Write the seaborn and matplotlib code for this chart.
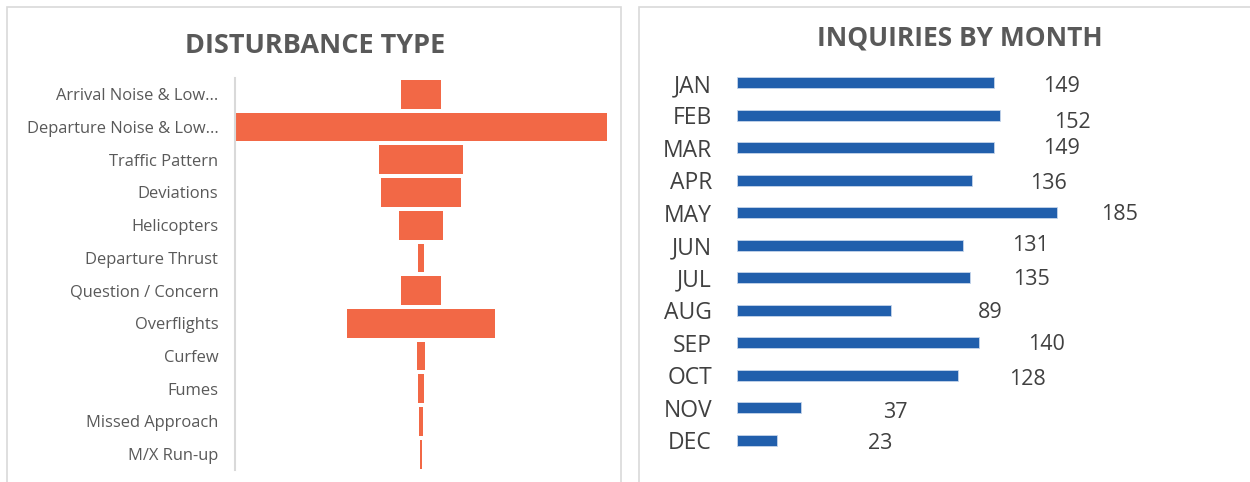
import numpy as np
import pandas as pd
import matplotlib
matplotlib.use('Agg')
import matplotlib.pyplot as plt
from matplotlib.patches import Rectangle
import seaborn as sns

# disturbance type counts (funnel)
dist_types = ['Arrival Noise & Low...', 'Departure Noise & Low...', 'Traffic Pattern',
              'Deviations', 'Helicopters', 'Departure Thrust', 'Question / Concern',
              'Overflights', 'Curfew', 'Fumes', 'Missed Approach', 'M/X Run-up']
dist_counts = [71, 648, 145, 141, 75, 11, 68, 258, 15, 11, 7, 4]

# inquiries by month
months = ['JAN', 'FEB', 'MAR', 'APR', 'MAY', 'JUN', 'JUL', 'AUG', 'SEP', 'OCT', 'NOV', 'DEC']
month_counts = [149, 152, 149, 136, 185, 131, 135, 89, 140, 128, 37, 23]

# label offsets from bar end (px) - labels in the original are placed loosely
lab_dx = [49, 54, 49, 58, 44, 49, 43, 87, 49, 51, 82, 91]
lab_dy = [-4, -7, -1, -3, -2, 0, -2, -2, -2, -4, -5, -3]

sns.set_theme(style='white')
plt.rcParams['font.family'] = ['Open Sans', 'DejaVu Sans']

W, H = 1250, 482
fig = plt.figure(figsize=(W / 100, H / 100), dpi=100)

def fbox(x0, y0, x1, y1):
    # pixel box (top-left origin) -> figure fraction rect
    return [x0 / W, 1 - y1 / H, (x1 - x0) / W, (y1 - y0) / H]

# panel borders
fig.patches.append(Rectangle((7 / W, -0.05), (621 - 7) / W, 1 - 7 / H + 0.05,
                             transform=fig.transFigure, fill=False, ec='#d9d9d9', lw=1.2))
fig.patches.append(Rectangle((639 / W, -0.05), 0.5, 1 - 7 / H + 0.05,
                             transform=fig.transFigure, fill=False, ec='#d9d9d9', lw=1.2))

orange = '#F26846'
blue = '#215FAC'

# ---- left: funnel
df1 = pd.DataFrame({'type': dist_types, 'half': np.array(dist_counts) / 2})
ax1 = fig.add_axes(fbox(235, 78, 607, 470.5))
sns.barplot(data=df1, x='half', y='type', color=orange, width=0.88,
            saturation=1, ax=ax1)
df1['neg'] = -df1['half']
sns.barplot(data=df1, x='neg', y='type', color=orange, width=0.88,
            saturation=1, ax=ax1)
for p in ax1.patches:
    p.set_edgecolor('none')
m = max(dist_counts) / 2
ax1.set_xlim(-m, m)
ax1.set_xlabel('')
ax1.set_ylabel('')
ax1.set_xticks([])
ax1.tick_params(axis='y', length=0, pad=12, labelsize=11.9, labelcolor='#595959')
for s in ['top', 'right', 'bottom']:
    ax1.spines[s].set_visible(False)
ax1.spines['left'].set_color('#d9d9d9')
ax1.spines['left'].set_linewidth(1.5)
fig.text(315 / W, 1 - 46 / H, 'DISTURBANCE TYPE', ha='center', va='center',
         fontsize=19.5, fontweight='bold', color='#595959')

# ---- right: inquiries by month
df2 = pd.DataFrame({'month': months, 'count': month_counts})
ax2 = fig.add_axes(fbox(737, 66.75, 1169, 456.25))
sns.barplot(data=df2, x='count', y='month', color=blue, width=0.34,
            saturation=1, edgecolor='#c5d5ea', linewidth=0.6, ax=ax2)
ax2.set_xlim(0, 250)
ax2.set_xlabel('')
ax2.set_ylabel('')
ax2.set_xticks([])
ax2.tick_params(axis='y', length=0, pad=18, labelsize=16.5, labelcolor='#404040')
sns.despine(ax=ax2, left=True, bottom=True)
for i, v in enumerate(month_counts):
    ax2.annotate(str(v), (v, i), xytext=(lab_dx[i] * 0.72, lab_dy[i] * 0.72),
                 textcoords='offset points', ha='left', va='center',
                 fontsize=15.5, color='#404040')
fig.text(960 / W, 1 - 38 / H, 'INQUIRIES BY MONTH', ha='center', va='center',
         fontsize=19, fontweight='bold', color='#595959')

fig.savefig('out.png', dpi=100, facecolor='white')
